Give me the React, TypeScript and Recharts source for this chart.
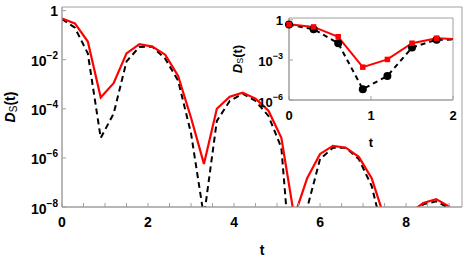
import { LineChart, Line, XAxis, YAxis, ReferenceArea } from 'recharts';

const times = [
  0, 0.3, 0.6, 0.9, 1.2, 1.5, 1.8, 2.1, 2.4, 2.7, 3.0, 3.3, 3.6, 3.9, 4.2, 4.5,
  4.8, 5.1, 5.4, 5.7, 6.0, 6.3, 6.6, 6.9, 7.2, 7.5, 7.8, 8.1, 8.4, 8.7, 9.0, 9.3,
];

// red solid curve
const redValues = [
  0.47, 0.3, 0.055, 2.9e-4, 1.1e-3, 0.018, 0.043, 0.034, 0.016, 2.2e-3, 4.3e-5, 5.7e-7,
  1.0e-4, 3.1e-4, 4.5e-4, 2.6e-4, 8.3e-5, 6.6e-6, 4e-9, 1.5e-7, 1.45e-6, 3.1e-6, 2.6e-6,
  1.1e-6, 1.5e-7, 3.5e-9, 1e-10, 6e-9, 1.45e-8, 2.1e-8, 1.05e-8, 1e-9,
];

// black dashed curve
const blackValues = [
  0.45, 0.2, 0.018, 6.5e-6, 6.3e-5, 8.5e-3, 0.033, 0.034, 0.011, 1.4e-3, 1e-5, 4e-9,
  3.2e-5, 2.1e-4, 4.1e-4, 2.1e-4, 5.1e-5, 2.6e-6, 1e-12, 9e-9, 9e-7, 2.6e-6, 2.6e-6,
  9e-7, 7.2e-8, 5e-10, 1e-12, 3e-9, 1.3e-8, 1.7e-8, 9e-9, 1e-10,
];

const mainXTicks = [0, 0.5, 1, 1.5, 2, 2.5, 3, 3.5, 4, 4.5, 5, 5.5, 6, 6.5, 7, 7.5, 8, 8.5, 9];
const mainXLabels = [0, 2, 4, 6, 8];
const mainYExponents = [-8, -6, -4, -2, 0];
const insetXTicks = [0, 1, 2];
const insetXLabels = [0, 1, 2];
const insetYExponents = [-6, -3, 0];

const FONT = "'Liberation Sans', Arial, sans-serif";
const FRAME = '#a0a0a0';
const RED = '#ff0000';

const mainData = times.map((t, i) => ({ t, red: redValues[i], black: blackValues[i] }));
const insetData = mainData.slice(0, 8);
const insetMarks = mainData.slice(0, 7);

function yTick(fontSize: number, gap: number) {
  return (props: any) => {
    const { x, y, payload } = props;
    const e = Math.round(Math.log10(payload.value));
    return (
      <g>
        <line x1={x} x2={x + 4} y1={y} y2={y} stroke={FRAME} />
        <text
          x={x - gap}
          y={y + (e === 0 ? 5.5 : 6.5)}
          textAnchor="end"
          fontFamily={FONT}
          fontWeight="bold"
          fontSize={fontSize}
          fill="#000"
        >
          {e === 0 ? (
            '1'
          ) : (
            <>
              <tspan>10</tspan>
              <tspan dy={-7} fontSize={fontSize - 4}>{`\u2212${-e}`}</tspan>
            </>
          )}
        </text>
      </g>
    );
  };
}

function xTick(labels: number[], fontSize: number) {
  return (props: any) => {
    const { x, y, payload } = props;
    return (
      <g>
        <line x1={x} x2={x} y1={y} y2={y - 4} stroke={FRAME} />
        {labels.includes(payload.value) && (
          <text x={x} y={y + 20} textAnchor="middle" fontFamily={FONT} fontWeight="bold" fontSize={fontSize} fill="#000">
            {payload.value}
          </text>
        )}
      </g>
    );
  };
}

function xLabel(fontSize: number, dy: number) {
  return (props: any) => {
    const vb = props.viewBox;
    return (
      <text x={vb.x + vb.width / 2} y={vb.y + dy} textAnchor="middle" fontFamily={FONT} fontWeight="bold" fontSize={fontSize} fill="#000">
        t
      </text>
    );
  };
}

function yLabel(fontSize: number, offset: number) {
  return (props: any) => {
    const vb = props.viewBox;
    const cx = vb.x + vb.width - offset;
    const cy = vb.y + vb.height / 2;
    return (
      <text
        transform={`rotate(-90 ${cx} ${cy})`}
        x={cx}
        y={cy}
        textAnchor="middle"
        dominantBaseline="central"
        fontFamily={FONT}
        fontWeight="bold"
        fontSize={fontSize}
        fill="#000"
      >
        <tspan fontStyle="italic">D</tspan>
        <tspan fontSize={fontSize - 4} fontWeight="normal" dy={3}>S</tspan>
        <tspan dy={-3}>(t)</tspan>
      </text>
    );
  };
}

const squareDot = (p: any) => (
  <rect key={`sq-${p.index}`} x={p.cx - 2.75} y={p.cy - 2.75} width={5.5} height={5.5} fill={RED} />
);

export default function App() {
  return (
    <div style={{ position: 'absolute', left: 0, top: 0, width: 463, height: 259, background: '#fff' }}>
      <LineChart width={463} height={259} data={mainData} margin={{ top: 7, right: 1, bottom: 0, left: 0 }}>
        <XAxis
          dataKey="t"
          type="number"
          domain={[0, 9.3]}
          allowDataOverflow
          ticks={mainXTicks}
          interval={0}
          height={52}
          tickLine={false}
          tickSize={0}
          tickMargin={0}
          axisLine={{ stroke: FRAME }}
          tick={xTick(mainXLabels, 14)}
          label={{ content: xLabel(14, 48) }}
        />
        <YAxis
          type="number"
          scale="log"
          domain={[1e-8, 1.4]}
          allowDataOverflow
          ticks={mainYExponents.map((e) => Math.pow(10, e))}
          interval={0}
          width={62}
          tickLine={false}
          tickSize={0}
          tickMargin={0}
          axisLine={{ stroke: FRAME }}
          tick={yTick(14, 4)}
          label={{ content: yLabel(14, 52) }}
        />
        <ReferenceArea x1={0} x2={9.3} y1={1e-8} y2={1.4} fill="none" stroke={FRAME} />
        <Line dataKey="black" stroke="#000" strokeWidth={2} strokeDasharray="6 4" dot={false} isAnimationActive={false} />
        <Line dataKey="red" stroke={RED} strokeWidth={2.2} dot={false} isAnimationActive={false} />
      </LineChart>

      <div style={{ position: 'absolute', left: 220, top: 8 }}>
        <LineChart width={240} height={150} margin={{ top: 10, right: 7, bottom: 10, left: 0 }}>
          <XAxis
            dataKey="t"
            type="number"
            domain={[0, 2]}
            allowDataOverflow
            ticks={insetXTicks}
            interval={0}
            height={48}
            tickLine={false}
            tickSize={0}
            tickMargin={0}
            axisLine={{ stroke: FRAME }}
            tick={xTick(insetXLabels, 13)}
            label={{ content: xLabel(13, 47) }}
          />
          <XAxis xAxisId="mk" dataKey="t" type="number" domain={[0, 2]} hide />
          <YAxis
            type="number"
            scale="log"
            domain={[1e-6, 1.4]}
            ticks={insetYExponents.map((e) => Math.pow(10, e))}
            interval={0}
            width={69}
            tickLine={false}
            tickSize={0}
            tickMargin={0}
            axisLine={{ stroke: FRAME }}
            tick={yTick(13, 6)}
            label={{ content: yLabel(13, 52) }}
          />
          <ReferenceArea x1={0} x2={2} y1={1e-6} y2={1.4} fill="none" stroke={FRAME} />
          <Line data={insetData} dataKey="black" stroke="#000" strokeWidth={2} strokeDasharray="5 4" dot={false} isAnimationActive={false} />
          <Line
            data={insetMarks}
            xAxisId="mk"
            dataKey="black"
            stroke="none"
            dot={{ r: 4, fill: '#000', stroke: 'none' }}
            isAnimationActive={false}
          />
          <Line data={insetData} dataKey="red" stroke={RED} strokeWidth={2} dot={false} isAnimationActive={false} />
          <Line data={insetMarks} xAxisId="mk" dataKey="red" stroke="none" dot={squareDot} isAnimationActive={false} />
        </LineChart>
      </div>
    </div>
  );
}
